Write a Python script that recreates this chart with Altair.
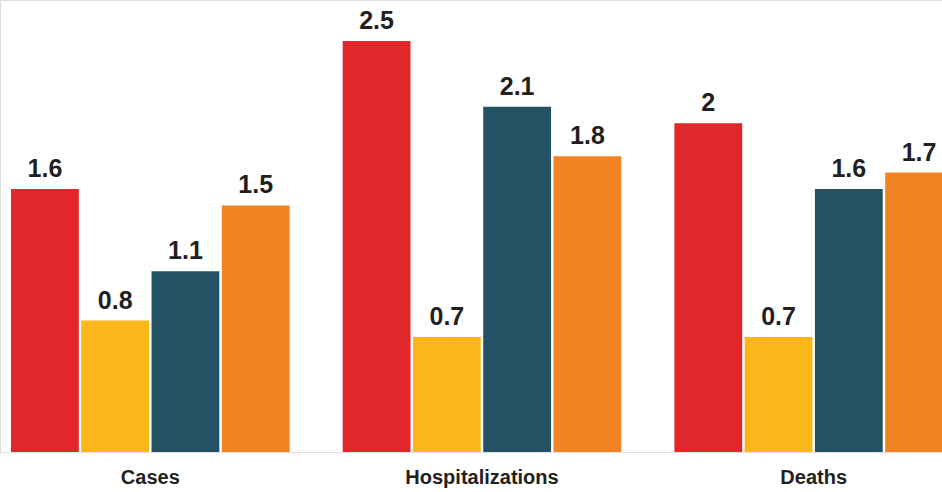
import altair as alt
import pandas as pd

categories = ["Cases", "Hospitalizations", "Deaths"]
series = ["S1", "S2", "S3", "S4"]
colors = ["#E1272A", "#FBB619", "#245163", "#F28322"]
values = {
    "Cases": [1.6, 0.8, 1.1, 1.5],
    "Hospitalizations": [2.5, 0.7, 2.1, 1.8],
    "Deaths": [2, 0.7, 1.6, 1.7],
}

rows = []
for c in categories:
    for s, v in zip(series, values[c]):
        rows.append({"category": c, "series": s, "value": v})
df = pd.DataFrame(rows)

x = alt.X(
    "category:N",
    sort=categories,
    scale=alt.Scale(range=[11, 953], paddingInner=0.16, paddingOuter=0),
    axis=alt.Axis(
        title=None, labelAngle=0, ticks=False, domain=False,
        labelFont="Liberation Sans", labelFontWeight="bold", labelFontSize=20,
        labelColor="#231F20", labelPadding=15,
    ),
)
xo = alt.XOffset("series:N", sort=series, scale=alt.Scale(paddingInner=0.035, paddingOuter=0))
y = alt.Y("value:Q", scale=alt.Scale(domain=[0, 2.75], nice=False), axis=None)

base = alt.Chart(df).encode(x=x, xOffset=xo, y=y)

bars = base.mark_bar(clip=True).encode(
    color=alt.Color("series:N", sort=series, scale=alt.Scale(domain=series, range=colors), legend=None)
)
labels = base.mark_text(
    baseline="bottom", dy=-7, font="Liberation Sans", fontWeight="bold",
    fontSize=25, color="#231F20", clip=True,
).encode(text=alt.Text("value:Q"))

chart = (bars + labels).properties(
    width=942, height=452,
    autosize=alt.AutoSizeParams(type="none"),
    padding={"left": 0, "right": 0, "top": 0, "bottom": 40},
).configure_view(stroke=None).configure(background="white")

chart.save("out.html", embed_options={"renderer": "svg", "actions": False})
